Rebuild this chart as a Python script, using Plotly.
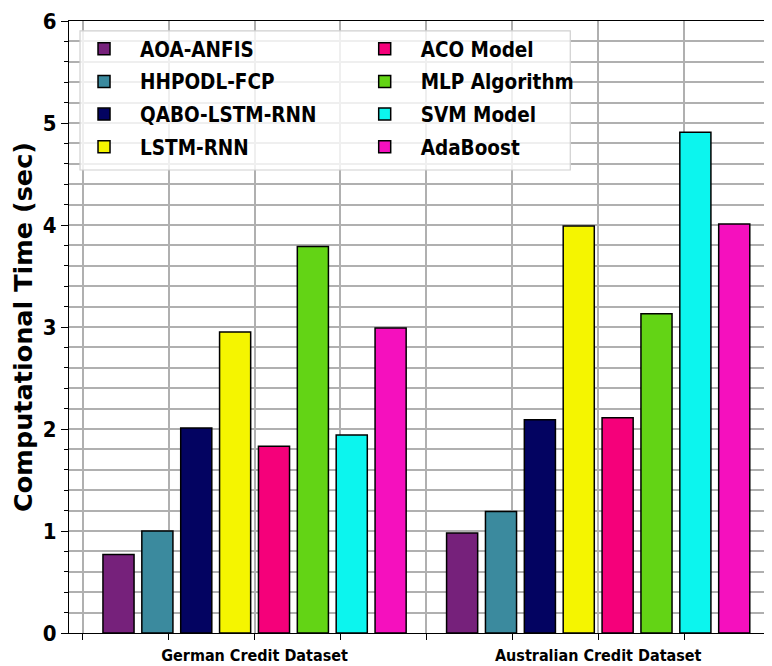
import plotly.graph_objects as go

datasets = ["German Credit Dataset", "Australian Credit Dataset"]
models = ["AOA-ANFIS", "HHPODL-FCP", "QABO-LSTM-RNN", "LSTM-RNN",
          "ACO Model", "MLP Algorithm", "SVM Model", "AdaBoost"]
aoa_anfis = [0.77, 0.98]
hhpodl_fcp = [1.00, 1.19]
qabo_lstm_rnn = [2.01, 2.09]
lstm_rnn = [2.95, 3.99]
aco_model = [1.83, 2.11]
mlp_algorithm = [3.79, 3.13]
svm_model = [1.94, 4.91]
adaboost = [2.99, 4.01]
series = [aoa_anfis, hhpodl_fcp, qabo_lstm_rnn, lstm_rnn,
          aco_model, mlp_algorithm, svm_model, adaboost]
colors = ["#76217b", "#3b8a9e", "#030361", "#f5f500",
          "#f5007a", "#63d415", "#0cf5ee", "#f510be"]
legend_column = ["legend", "legend", "legend", "legend",
                 "legend2", "legend2", "legend2", "legend2"]

x_pos = list(range(len(datasets)))
grid_vals = [-0.5, -0.25, 0, 0.25, 0.5, 0.75, 1, 1.25, 1.5]
grid_text = ["", "", datasets[0], "", "", "", datasets[1], "", ""]

fig = go.Figure()
for name, vals, col, lg in zip(models, series, colors, legend_column):
    fig.add_trace(go.Bar(
        x=x_pos, y=vals, name=name, legend=lg, legendgroup=name,
        marker=dict(color=col, line=dict(color="#000000", width=1.5)),
    ))

base = "DejaVu Sans"
cond = "DejaVu Sans Condensed, DejaVu Sans"
leg_font = dict(family=cond, size=20.5, color="black", weight="bold")
leg_common = dict(orientation="v", xanchor="left", yanchor="top",
                  bgcolor="rgba(0,0,0,0)", borderwidth=0, itemwidth=62,
                  traceorder="grouped", tracegroupgap=3, font=leg_font)

fig.update_layout(
    width=764, height=658,
    margin=dict(l=61, r=1, t=10, b=32),
    paper_bgcolor="white", plot_bgcolor="white",
    barmode="group", bargap=0.095, bargroupgap=0.2,
    font=dict(family=base, color="black"),
    legend=dict(x=-0.0014, y=0.987, **leg_common),
    legend2=dict(x=0.399, y=0.987, **leg_common),
    shapes=[dict(type="rect", xref="paper", yref="paper",
                 x0=0.0157, x1=0.7151, y0=0.7565, y1=0.9838,
                 fillcolor="rgba(255,255,255,0.8)",
                 line=dict(color="#d0d0d0", width=1.2), layer="above")],
    xaxis=dict(
        range=[-0.54, 1.5], tickvals=grid_vals, ticktext=grid_text,
        showgrid=True, gridcolor="#b0b0b0", gridwidth=1.5,
        ticks="outside", ticklen=6, tickcolor="black", tickwidth=1.2,
        showline=True, linecolor="black", linewidth=1.2, mirror=True,
        tickfont=dict(family=cond, size=16, color="black", weight="bold"),
        ticklabelstandoff=2, ticklabeloverflow="allow",
        zeroline=False,
    ),
    yaxis=dict(
        range=[0, 6], tickvals=[0, 1, 2, 3, 4, 5, 6],
        showgrid=True, gridcolor="#b0b0b0", gridwidth=1.5,
        ticks="outside", ticklen=7, tickcolor="black", tickwidth=1.2,
        showline=True, linecolor="black", linewidth=1.2, mirror=True,
        tickfont=dict(family=cond, size=22, color="black", weight="bold"),
        ticklabeloverflow="allow",
        title=dict(text="Computational Time (sec)", standoff=8,
                   font=dict(family=base, size=25.5, color="black", weight="bold")),
        minor=dict(dtick=0.2, showgrid=True, gridcolor="#b0b0b0", gridwidth=1.5,
                   ticks="outside", ticklen=4, tickcolor="black"),
        zeroline=False,
    ),
)

fig.write_html("out.html")
